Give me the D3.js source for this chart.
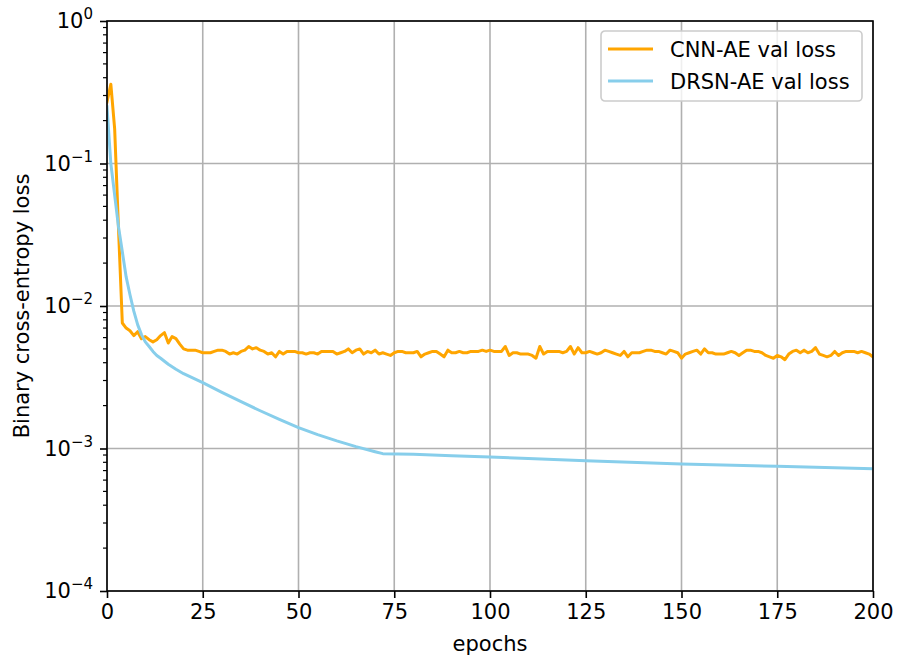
<!DOCTYPE html>
<html>
<head>
<meta charset="utf-8">
<script src="https://cdn.jsdelivr.net/npm/d3@7"></script>
<style>
	body { margin: 0; background: #fff; }
	svg { display: block; font-family: "DejaVu Sans", sans-serif; }
</style>
</head>
<body>
<div class="container-chart"></div>
<script>

// CNN-AE val loss, one value per epoch (0..200)
var cnnLoss = [
	0.27, 0.36, 0.175, 0.035, 0.0076, 0.0070, 0.0067, 0.0062, 0.0066, 0.0059,
	0.0061, 0.0058, 0.0056, 0.0058, 0.0062, 0.0065, 0.0055, 0.0061, 0.0059, 0.0054,
	0.0050, 0.0049, 0.0049, 0.0049, 0.0048, 0.0047, 0.0047, 0.0047, 0.0048, 0.0049,
	0.0049, 0.0048, 0.0046, 0.0047, 0.0046, 0.0048, 0.0049, 0.0052, 0.0050, 0.0051,
	0.0049, 0.0048, 0.0046, 0.0047, 0.0044, 0.0048, 0.0046, 0.0048, 0.0048, 0.0048,
	0.0047, 0.0047, 0.0046, 0.0047, 0.0047, 0.0046, 0.0048, 0.0048, 0.0048, 0.0048,
	0.0046, 0.0047, 0.0048, 0.0050, 0.0047, 0.0049, 0.0050, 0.0046, 0.0048, 0.0047,
	0.0049, 0.0046, 0.0047, 0.0046, 0.0045, 0.0047, 0.0048, 0.0048, 0.0047, 0.0047,
	0.0047, 0.0048, 0.0044, 0.0046, 0.0047, 0.0048, 0.0048, 0.0046, 0.0044, 0.0049,
	0.0047, 0.0047, 0.0048, 0.0047, 0.0047, 0.0048, 0.0048, 0.0048, 0.0049, 0.0048,
	0.0049, 0.0048, 0.0048, 0.0048, 0.0052, 0.0045, 0.0047, 0.0047, 0.0046, 0.0046,
	0.0046, 0.0045, 0.0043, 0.0052, 0.0046, 0.0048, 0.0048, 0.0048, 0.0048, 0.0047,
	0.0048, 0.0052, 0.0046, 0.0051, 0.0047, 0.0047, 0.0048, 0.0047, 0.0046, 0.0047,
	0.0049, 0.0048, 0.0047, 0.0046, 0.0045, 0.0048, 0.0044, 0.0047, 0.0047, 0.0047,
	0.0048, 0.0049, 0.0049, 0.0048, 0.0048, 0.0047, 0.0046, 0.0049, 0.0048, 0.0047,
	0.0043, 0.0046, 0.0047, 0.0048, 0.0049, 0.0046, 0.0050, 0.0047, 0.0047, 0.0046,
	0.0046, 0.0046, 0.0047, 0.0048, 0.0047, 0.0045, 0.0047, 0.0049, 0.0049, 0.0048,
	0.0048, 0.0047, 0.0045, 0.0044, 0.0043, 0.0045, 0.0044, 0.0042, 0.0046, 0.0048,
	0.0049, 0.0047, 0.0049, 0.0047, 0.0048, 0.0051, 0.0046, 0.0045, 0.0044, 0.0045,
	0.0048, 0.0045, 0.0047, 0.0048, 0.0048, 0.0048, 0.0047, 0.0048, 0.0047, 0.0046,
	0.0044
];

// DRSN-AE val loss, smooth curve read at these epochs
var drsnEpochs = [0, 1, 2, 3, 4, 5, 6, 7, 8, 9, 10, 11, 12, 13, 14, 16, 18, 20, 25,
	30, 35, 40, 45, 50, 55, 60, 65, 70, 72, 80, 90, 100, 110, 125, 150, 175, 200];
var drsnLoss = [0.25, 0.10, 0.060, 0.036, 0.024, 0.016, 0.0120, 0.0092, 0.0074, 0.0063,
	0.0056, 0.0052, 0.0048, 0.0045, 0.0043, 0.0039, 0.0036, 0.00335, 0.0029,
	0.00248, 0.00213, 0.00184, 0.00160, 0.00140, 0.00125, 0.00113, 0.00103, 0.00095, 0.00092,
	0.00091, 0.00089, 0.00087, 0.00085, 0.00082, 0.00078, 0.00075, 0.00072];

var xTicks = [0, 25, 50, 75, 100, 125, 150, 175, 200];
var yTickExps = [0, -1, -2, -3, -4];
var seriesNames = ["CNN-AE val loss", "DRSN-AE val loss"];
var seriesColors = ["#ffa500", "#87ceeb"];

var width = 904;
var height = 655;
var margin = { left: 107, right: 31, top: 21, bottom: 64 };
var fontSize = 21;

var x = d3.scaleLinear()
	.domain([0, 200])
	.range([margin.left, width - margin.right]);

var y = d3.scaleLog()
	.domain([1e-4, 1])
	.range([height - margin.bottom, margin.top]);

var svg = d3.select(".container-chart")
	.append("svg")
	.attr("width", width)
	.attr("height", height);

// grid
svg.append("g")
	.selectAll("line")
	.data(xTicks)
	.enter()
	.append("line")
	.attr("x1", function (d) { return x(d); })
	.attr("x2", function (d) { return x(d); })
	.attr("y1", margin.top)
	.attr("y2", height - margin.bottom)
	.attr("stroke", "#b0b0b0")
	.attr("stroke-width", 1.6);

svg.append("g")
	.selectAll("line")
	.data(yTickExps)
	.enter()
	.append("line")
	.attr("x1", margin.left)
	.attr("x2", width - margin.right)
	.attr("y1", function (d) { return y(Math.pow(10, d)); })
	.attr("y2", function (d) { return y(Math.pow(10, d)); })
	.attr("stroke", "#b0b0b0")
	.attr("stroke-width", 1.6);

// lines
svg.append("clipPath")
	.attr("id", "plot-clip")
	.append("rect")
	.attr("x", margin.left)
	.attr("y", margin.top)
	.attr("width", width - margin.left - margin.right)
	.attr("height", height - margin.top - margin.bottom);

var line = d3.line()
	.x(function (d) { return x(d[0]); })
	.y(function (d) { return y(d[1]); });

var cnnPoints = cnnLoss.map(function (v, i) { return [i, v]; });
var drsnPoints = drsnLoss.map(function (v, i) { return [drsnEpochs[i], v]; });

svg.append("path")
	.datum(cnnPoints)
	.attr("clip-path", "url(#plot-clip)")
	.attr("d", line)
	.attr("fill", "none")
	.attr("stroke", seriesColors[0])
	.attr("stroke-width", 3)
	.attr("stroke-linejoin", "round")
	.attr("stroke-linecap", "square");

svg.append("path")
	.datum(drsnPoints)
	.attr("clip-path", "url(#plot-clip)")
	.attr("d", line)
	.attr("fill", "none")
	.attr("stroke", seriesColors[1])
	.attr("stroke-width", 3)
	.attr("stroke-linejoin", "round")
	.attr("stroke-linecap", "square");

// x axis
var xAxis = svg.append("g")
	.attr("transform", "translate(0," + (height - margin.bottom) + ")")
	.call(d3.axisBottom(x).tickValues(xTicks).tickSize(7).tickPadding(6).tickFormat(d3.format("d")));

xAxis.select(".domain").remove();
xAxis.selectAll(".tick line").attr("stroke", "#000").attr("stroke-width", 1.6);
xAxis.selectAll(".tick text")
	.attr("font-size", fontSize)
	.attr("font-family", "DejaVu Sans")
	.attr("fill", "#000");

// y axis, major ticks with 10^n labels
var yAxis = svg.append("g")
	.attr("transform", "translate(" + margin.left + ",0)")
	.call(d3.axisLeft(y).tickValues(yTickExps.map(function (e) { return Math.pow(10, e); }))
		.tickSize(7).tickPadding(7).tickFormat(""));

yAxis.select(".domain").remove();
yAxis.selectAll(".tick line").attr("stroke", "#000").attr("stroke-width", 1.6);

yAxis.selectAll(".tick text").each(function (d) {
	var p = Math.round(Math.log10(d));
	var t = d3.select(this)
		.attr("font-size", fontSize)
		.attr("font-family", "DejaVu Sans")
		.attr("fill", "#000")
		.attr("dy", "0.32em");
	t.append("tspan").text("10");
	t.append("tspan")
		.attr("font-size", 15)
		.attr("dy", "-0.6em")
		.text(p === 0 ? "0" : "\u2212" + Math.abs(p));
});

// minor ticks on the log axis
var minor = [];
for (var e = -4; e < 0; e++) {
	for (var m = 2; m <= 9; m++) {
		minor.push(m * Math.pow(10, e));
	}
}
svg.append("g")
	.selectAll("line")
	.data(minor)
	.enter()
	.append("line")
	.attr("x1", margin.left - 4)
	.attr("x2", margin.left)
	.attr("y1", function (d) { return y(d); })
	.attr("y2", function (d) { return y(d); })
	.attr("stroke", "#000")
	.attr("stroke-width", 1.2);

// frame
svg.append("rect")
	.attr("x", margin.left)
	.attr("y", margin.top)
	.attr("width", width - margin.left - margin.right)
	.attr("height", height - margin.top - margin.bottom)
	.attr("fill", "none")
	.attr("stroke", "#000")
	.attr("stroke-width", 1.6);

// axis titles
svg.append("text")
	.attr("x", (margin.left + width - margin.right) / 2)
	.attr("y", 651)
	.attr("text-anchor", "middle")
	.attr("font-size", fontSize)
	.text("epochs");

svg.append("text")
	.attr("transform", "translate(29," + ((margin.top + height - margin.bottom) / 2) + ") rotate(-90)")
	.attr("text-anchor", "middle")
	.attr("font-size", fontSize)
	.text("Binary cross-entropy loss");

// legend
var legend = svg.append("g").attr("transform", "translate(601,31)");

legend.append("rect")
	.attr("width", 261)
	.attr("height", 70)
	.attr("rx", 4)
	.attr("fill", "#fff")
	.attr("fill-opacity", 0.8)
	.attr("stroke", "#cccccc")
	.attr("stroke-width", 1.6);

var items = legend.selectAll("g")
	.data(seriesNames)
	.enter()
	.append("g")
	.attr("transform", function (d, i) { return "translate(0," + (18 + i * 32) + ")"; });

items.append("line")
	.attr("x1", 7)
	.attr("x2", 52)
	.attr("stroke", function (d, i) { return seriesColors[i]; })
	.attr("stroke-width", 3);

items.append("text")
	.attr("x", 69)
	.attr("dy", "0.36em")
	.attr("font-size", fontSize)
	.text(function (d) { return d; });

</script>
</body>
</html>
